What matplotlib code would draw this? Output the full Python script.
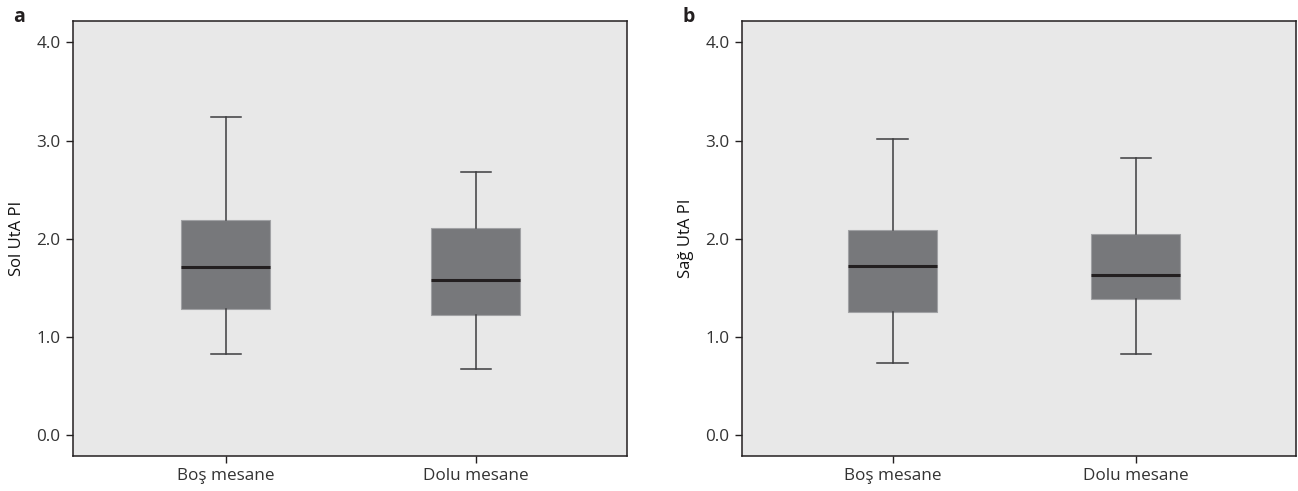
import matplotlib
matplotlib.use('Agg')
from matplotlib import pyplot as plt

plt.rcParams['font.family'] = ['Open Sans', 'DejaVu Sans']

groups = ['Boş mesane', 'Dolu mesane']
y_ticks = [0.0, 1.0, 2.0, 3.0, 4.0]

# five-number summaries: low whisker, Q1, median, Q3, high whisker
sol_whislo = [0.83, 0.674]
sol_q1 = [1.288, 1.227]
sol_med = [1.712, 1.577]
sol_q3 = [2.187, 2.106]
sol_whishi = [3.24, 2.675]

sag_whislo = [0.735, 0.830]
sag_q1 = [1.251, 1.383]
sag_med = [1.719, 1.631]
sag_q3 = [2.088, 2.048]
sag_whishi = [3.014, 2.824]

panels = [
    ('a', 'Sol UtA PI', sol_whislo, sol_q1, sol_med, sol_q3, sol_whishi),
    ('b', 'Sağ UtA PI', sag_whislo, sag_q1, sag_med, sag_q3, sag_whishi),
]

BG = '#e8e8e8'
BOX = '#77787b'
INK = '#231f20'
TEXT = '#333333'

fig = plt.figure(figsize=(12.98, 4.91), dpi=100)
rects = [[0.0562, 0.0713, 0.4268, 0.8857], [0.5717, 0.0713, 0.4268, 0.8857]]
xlims = [(0.388, 2.604), (0.381, 2.66)]
box_widths = [0.356, 0.368]
cap_widths = [0.12, 0.124]

for rect, xl, bw, cw, (letter, ylabel, lo, q1, med, q3, hi) in zip(
        rects, xlims, box_widths, cap_widths, panels):
    ax = fig.add_axes(rect)
    ax.set_facecolor(BG)
    stats = [
        dict(label=g, whislo=lo[i], q1=q1[i], med=med[i], q3=q3[i], whishi=hi[i], fliers=[])
        for i, g in enumerate(groups)
    ]
    ax.bxp(
        stats,
        positions=[1, 2],
        widths=bw,
        patch_artist=True,
        showfliers=False,
        boxprops=dict(facecolor=BOX, edgecolor='#a0a1a4', linewidth=0.8),
        medianprops=dict(color=INK, linewidth=2.2),
        whiskerprops=dict(color='#3d3d3f', linewidth=1.1),
        capprops=dict(color='#3d3d3f', linewidth=1.1),
        capwidths=cw,
    )
    ax.set_xlim(*xl)
    ax.set_ylim(-0.21, 4.215)
    ax.set_yticks(y_ticks)
    ax.set_yticklabels([f'{t:.1f}' for t in y_ticks])
    ax.set_xticks([1, 2])
    ax.set_xticklabels(groups)
    ax.tick_params(direction='out', length=5, width=1.0, color=INK,
                   labelsize=12.3, labelcolor=TEXT, pad=4)
    for s in ax.spines.values():
        s.set_color(INK)
        s.set_linewidth(1.1)
    ax.set_ylabel(ylabel, fontsize=12, color='#111111', labelpad=8)
    fig.text(rect[0] - 0.046, 0.985, letter, fontsize=14, fontweight='bold',
             color=INK, va='top', ha='left')

fig.savefig('out.png', dpi=100, facecolor='white')
